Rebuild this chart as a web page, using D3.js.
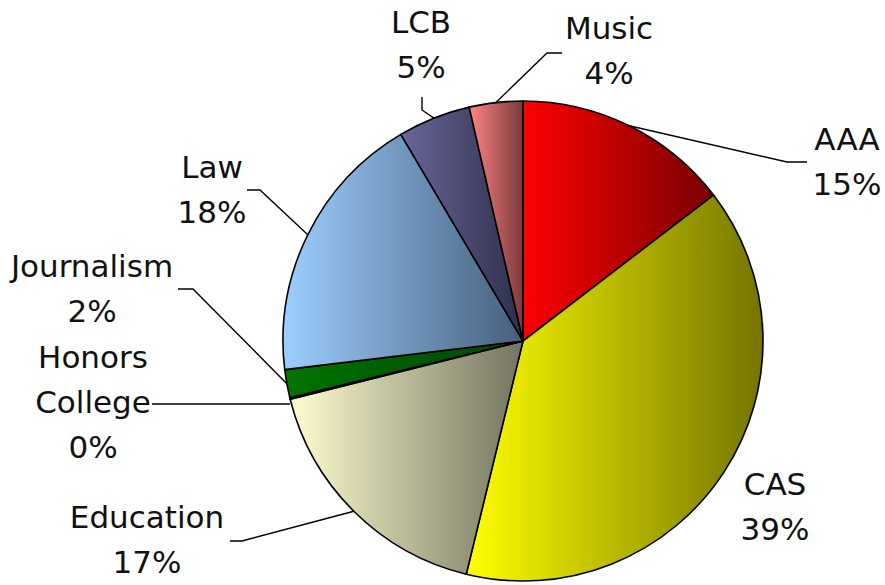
<!DOCTYPE html>
<html>
<head>
<meta charset="utf-8">
<script src="https://cdn.jsdelivr.net/npm/d3@7"></script>
<style>
  html, body { margin: 0; padding: 0; background: #fff; }
  svg { display: block; }
  .lbl { font-family: "DejaVu Sans", "Liberation Sans", Arial, sans-serif; font-size: 31px; fill: #111; }
  .leader { fill: none; stroke: #000; stroke-width: 1.4; }
  .slice { stroke: #000; stroke-width: 1.6; stroke-linejoin: round; }
</style>
</head>
<body>
<svg id="chart" width="885" height="585"></svg>
<script>
// data (clockwise from 12 o'clock)
const schools = ['AAA', 'CAS', 'Education', 'Honors College', 'Journalism', 'Law', 'LCB', 'Music'];
const shares = [14.6, 39.2, 17.3, 0.1, 1.9, 18.4, 4.9, 3.6];
const pctLabels = ['15%', '39%', '17%', '0%', '2%', '18%', '5%', '4%'];

// light -> dark colour of each slice's shading
const lightColors = ['#ff0000', '#ffff00', '#fffdd0', '#007400', '#007400', '#9dcfff', '#686899', '#ff8484'];
const darkColors  = ['#780000', '#747400', '#747460', '#004400', '#004400', '#465f7c', '#2e2e4c', '#7a3a3a'];

// label layout: text centre x, first baseline, elbow of the leader line
const labelLayout = [
  { x: 847, y: 150, lines: ['AAA'], elbow: [[807, 162], [787, 162]] },
  { x: 775, y: 495, lines: ['CAS'], elbow: null },
  { x: 147, y: 528, lines: ['Education'], elbow: [[230, 541], [242, 541]] },
  { x: 93,  y: 368, lines: ['Honors', 'College'], elbow: [[152, 404], [152, 404]], flat: true },
  { x: 92,  y: 277, lines: ['Journalism'], elbow: [[178, 289], [193, 289]] },
  { x: 212, y: 178, lines: ['Law'], elbow: [[247, 190], [260, 190]] },
  { x: 421, y: 33,  lines: ['LCB'], elbow: [[422, 97], [422, 110]] },
  { x: 609, y: 39,  lines: ['Music'], elbow: [[562, 53], [547, 53]] }
];

const cx = 523, cy = 341, radius = 240, lineGap = 45;

const svg = d3.select('#chart');
const defs = svg.append('defs');

const pie = d3.pie().sort(null).value(d => d).startAngle(0).endAngle(2 * Math.PI);
const arcs = pie(shares);
const arc = d3.arc().innerRadius(0).outerRadius(radius);

const g = svg.append('g').attr('transform', `translate(${cx},${cy})`);

arcs.forEach((a, i) => {
  const grad = defs.append('linearGradient')
    .attr('id', 'grad' + i)
    .attr('x1', '0%').attr('y1', '0%')
    .attr('x2', '100%').attr('y2', '0%');
  grad.append('stop').attr('offset', '0%').attr('stop-color', lightColors[i]);
  grad.append('stop').attr('offset', '100%').attr('stop-color', darkColors[i]);

  g.append('path')
    .attr('class', 'slice')
    .attr('d', arc(a))
    .attr('fill', `url(#grad${i})`);
});

// leader lines and labels
arcs.forEach((a, i) => {
  const L = labelLayout[i];
  const mid = (a.startAngle + a.endAngle) / 2;
  const edge = [cx + radius * Math.sin(mid), cy - radius * Math.cos(mid)];

  if (L.elbow) {
    let pts;
    if (L.flat) {
      pts = [L.elbow[0], [edge[0], L.elbow[0][1]]];
    } else {
      pts = [L.elbow[0], L.elbow[1], edge];
    }
    svg.append('path')
      .attr('class', 'leader')
      .attr('d', d3.line()(pts));
  }

  const t = svg.append('text')
    .attr('class', 'lbl')
    .attr('text-anchor', 'middle');
  const allLines = L.lines.concat([pctLabels[i]]);
  allLines.forEach((s, k) => {
    t.append('tspan')
      .attr('x', L.x)
      .attr('y', L.y + k * lineGap)
      .text(s);
  });
});
</script>
</body>
</html>
